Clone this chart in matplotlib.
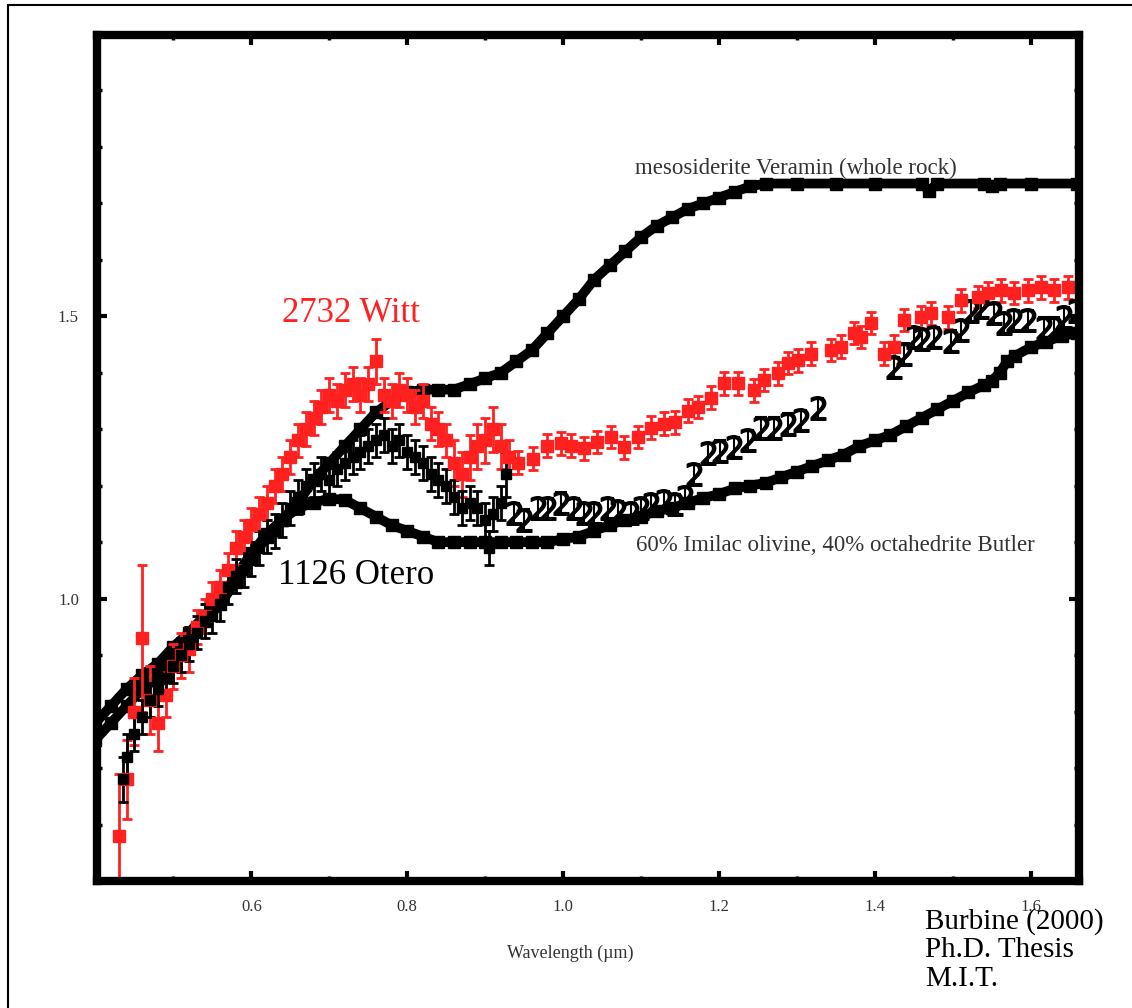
import matplotlib
matplotlib.use('Agg')
import matplotlib.pyplot as plt
from matplotlib.ticker import FixedLocator
from matplotlib.patches import Rectangle

plt.rcParams['font.family'] = ['Liberation Serif', 'DejaVu Serif']

# --- mesosiderite Veramin (whole rock) ---
meso_x = [0.40, 0.42, 0.44, 0.46, 0.48, 0.50, 0.52, 0.54, 0.56, 0.58, 0.60, 0.62,
          0.64, 0.66, 0.68, 0.70, 0.72, 0.74, 0.76, 0.78, 0.80, 0.82, 0.84, 0.86,
          0.88, 0.90, 0.92, 0.94, 0.96, 0.98, 1.00, 1.02, 1.04, 1.06, 1.08, 1.10,
          1.12, 1.14, 1.16, 1.18, 1.20, 1.22, 1.24, 1.26, 1.30, 1.35, 1.40, 1.46,
          1.47, 1.48, 1.54, 1.55, 1.56, 1.60, 1.66]
meso_y = [0.75, 0.78, 0.81, 0.84, 0.86, 0.89, 0.92, 0.96, 0.99, 1.03, 1.07, 1.11,
          1.14, 1.17, 1.21, 1.24, 1.27, 1.30, 1.33, 1.35, 1.365, 1.37, 1.37, 1.37,
          1.38, 1.39, 1.40, 1.42, 1.44, 1.47, 1.50, 1.53, 1.565, 1.59, 1.615, 1.64,
          1.66, 1.675, 1.69, 1.70, 1.71, 1.72, 1.73, 1.735, 1.735, 1.735, 1.735, 1.735,
          1.722, 1.735, 1.735, 1.73, 1.735, 1.735, 1.735]

# --- 60% Imilac olivine, 40% octahedrite Butler ---
imi_x = [0.40, 0.42, 0.44, 0.46, 0.48, 0.50, 0.52, 0.54, 0.56, 0.58, 0.60, 0.62,
         0.64, 0.66, 0.68, 0.70, 0.72, 0.74, 0.76, 0.78, 0.80, 0.82, 0.84, 0.86,
         0.88, 0.90, 0.92, 0.94, 0.96, 0.98, 1.00, 1.02, 1.04, 1.06, 1.08, 1.10,
         1.12, 1.14, 1.16, 1.18, 1.20, 1.22, 1.24, 1.26, 1.28, 1.30, 1.32, 1.34,
         1.36, 1.38, 1.40, 1.42, 1.44, 1.46, 1.48, 1.50, 1.52, 1.54, 1.55, 1.56,
         1.57, 1.58, 1.60, 1.62, 1.64, 1.66]
imi_y = [0.78, 0.81, 0.84, 0.865, 0.885, 0.915, 0.94, 0.97, 1.00, 1.04, 1.08, 1.115,
         1.14, 1.16, 1.17, 1.177, 1.175, 1.16, 1.145, 1.13, 1.12, 1.11, 1.10, 1.10,
         1.10, 1.10, 1.10, 1.10, 1.10, 1.10, 1.105, 1.11, 1.12, 1.13, 1.14, 1.145,
         1.155, 1.16, 1.17, 1.178, 1.185, 1.195, 1.20, 1.205, 1.215, 1.225, 1.235, 1.245,
         1.255, 1.27, 1.28, 1.29, 1.305, 1.32, 1.335, 1.35, 1.365, 1.378, 1.385, 1.40,
         1.42, 1.43, 1.445, 1.455, 1.465, 1.47]

# --- 2732 Witt (red) ---
witt_x = [0.43, 0.44, 0.45, 0.46, 0.47, 0.48, 0.49, 0.50, 0.51, 0.52, 0.53, 0.54,
          0.55, 0.56, 0.57, 0.58, 0.59, 0.60, 0.61, 0.62, 0.63, 0.64, 0.65, 0.66,
          0.67, 0.68, 0.69, 0.70, 0.71, 0.72, 0.73, 0.74, 0.75, 0.76, 0.77, 0.78,
          0.79, 0.80, 0.81, 0.82, 0.83, 0.84, 0.85, 0.86, 0.87, 0.88, 0.89, 0.90,
          0.91, 0.92, 0.93,
          0.942, 0.962, 0.980, 0.997, 1.010, 1.027, 1.044, 1.061, 1.078, 1.096, 1.113,
          1.130, 1.143, 1.160, 1.173, 1.190, 1.207, 1.224, 1.245, 1.258, 1.276, 1.288,
          1.301, 1.318, 1.344, 1.357, 1.373, 1.382, 1.395,
          1.412, 1.425, 1.438, 1.459, 1.472, 1.494, 1.511, 1.533, 1.545, 1.562, 1.579,
          1.597, 1.613, 1.630, 1.648]
witt_y = [0.58, 0.68, 0.80, 0.93, 0.82, 0.78, 0.83, 0.88, 0.90, 0.91, 0.95, 0.97,
          1.00, 1.02, 1.05, 1.09, 1.11, 1.13, 1.15, 1.17, 1.20, 1.22, 1.25, 1.28,
          1.30, 1.32, 1.34, 1.36, 1.35, 1.37, 1.38, 1.36, 1.38, 1.42, 1.36, 1.35,
          1.37, 1.36, 1.34, 1.35, 1.31, 1.30, 1.28, 1.24, 1.22, 1.25, 1.27, 1.28,
          1.30, 1.27, 1.25,
          1.241, 1.248, 1.271, 1.275, 1.271, 1.266, 1.277, 1.286, 1.268, 1.286, 1.303,
          1.310, 1.312, 1.333, 1.339, 1.356, 1.381, 1.381, 1.369, 1.387, 1.399, 1.417,
          1.422, 1.434, 1.440, 1.446, 1.470, 1.463, 1.488,
          1.434, 1.446, 1.493, 1.498, 1.505, 1.498, 1.528, 1.534, 1.541, 1.546, 1.541,
          1.546, 1.551, 1.546, 1.551]
witt_err = [0.11, 0.07, 0.06, 0.13, 0.06, 0.05, 0.04, 0.04, 0.04, 0.04, 0.03, 0.03,
            0.03, 0.03, 0.03, 0.03, 0.03, 0.03, 0.03, 0.03, 0.03, 0.03, 0.03, 0.03,
            0.03, 0.03, 0.03, 0.03, 0.03, 0.03, 0.03, 0.03, 0.03, 0.04, 0.03, 0.03,
            0.03, 0.03, 0.03, 0.03, 0.03, 0.03, 0.03, 0.04, 0.04, 0.04, 0.04, 0.04,
            0.04, 0.04, 0.03] + [0.02] * 44

# --- 1126 Otero (black) ---
otero_x = [0.435, 0.44, 0.45, 0.46, 0.47, 0.48, 0.49, 0.50, 0.51, 0.52, 0.53, 0.54,
           0.55, 0.56, 0.57, 0.58, 0.59, 0.60, 0.61, 0.62, 0.63, 0.64, 0.65, 0.66,
           0.67, 0.68, 0.69, 0.70, 0.71, 0.72, 0.73, 0.74, 0.75, 0.76, 0.77, 0.78,
           0.79, 0.80, 0.81, 0.82, 0.83, 0.84, 0.85, 0.86, 0.87, 0.88, 0.89, 0.90,
           0.905, 0.91, 0.92, 0.927]
otero_y = [0.68, 0.72, 0.76, 0.79, 0.82, 0.84, 0.86, 0.88, 0.90, 0.92, 0.94, 0.96,
           0.97, 0.99, 1.02, 1.04, 1.05, 1.07, 1.09, 1.11, 1.12, 1.14, 1.16, 1.18,
           1.20, 1.21, 1.22, 1.21, 1.23, 1.24, 1.25, 1.26, 1.27, 1.28, 1.29, 1.27,
           1.28, 1.26, 1.25, 1.24, 1.22, 1.21, 1.20, 1.18, 1.16, 1.17, 1.16, 1.14,
           1.09, 1.15, 1.17, 1.22]
otero_err = [0.04, 0.04] + [0.03] * 49 + [0.04]

otero2_x = [0.937, 0.950, 0.968, 0.981, 0.997, 1.014, 1.027, 1.040, 1.058, 1.071,
            1.087, 1.100, 1.113, 1.130, 1.143, 1.156, 1.168, 1.186, 1.202, 1.219,
            1.237, 1.254, 1.271, 1.288, 1.305, 1.327,
            1.425, 1.438, 1.450, 1.460, 1.476, 1.498, 1.510, 1.524, 1.536, 1.553,
            1.566, 1.579, 1.597, 1.617, 1.630, 1.643, 1.658]
otero2_y = [1.151, 1.140, 1.160, 1.160, 1.170, 1.160, 1.151, 1.151, 1.160, 1.155,
            1.151, 1.160, 1.168, 1.173, 1.168, 1.180, 1.220, 1.257, 1.262, 1.268,
            1.280, 1.303, 1.303, 1.310, 1.316, 1.338,
            1.410, 1.434, 1.463, 1.460, 1.463, 1.457, 1.475, 1.510, 1.516, 1.505,
            1.488, 1.493, 1.493, 1.480, 1.480, 1.498, 1.510]

fig = plt.figure(figsize=(11.32, 10.08), dpi=100)
ax = fig.add_axes([97 / 1132, 1 - 881 / 1008, 982 / 1132, 846 / 1008])

ax.plot(meso_x, meso_y, color='black', lw=7, marker='s', ms=8)
ax.plot(imi_x, imi_y, color='black', lw=7, marker='s', ms=8)

ax.errorbar(witt_x, witt_y, yerr=witt_err, fmt='s', color='#ff2020', ms=8,
            capsize=3.5, elinewidth=2, capthick=2)
ax.errorbar(otero_x, otero_y, yerr=otero_err, fmt='s', color='black', ms=7.5,
            capsize=3.5, elinewidth=2, capthick=2)
ax.errorbar(otero2_x, otero2_y, yerr=0.018, fmt='none', ecolor='black',
            capsize=4, elinewidth=1.5, capthick=1.5)
ax.plot(otero2_x, otero2_y, linestyle='none', marker='$2$', color='black', ms=17)

ax.set_xlim(0.402, 1.662)
ax.set_ylim(0.5, 1.998)
ax.xaxis.set_major_locator(FixedLocator([0.6, 0.8, 1.0, 1.2, 1.4, 1.6]))
ax.xaxis.set_minor_locator(FixedLocator([0.5, 0.7, 0.9, 1.1, 1.3, 1.5]))
ax.yaxis.set_major_locator(FixedLocator([1.0, 1.5]))
ax.yaxis.set_minor_locator(FixedLocator([0.6, 0.7, 0.8, 0.9, 1.1, 1.2, 1.3, 1.4,
                                         1.6, 1.7, 1.8, 1.9]))
ax.xaxis.set_major_formatter(plt.FuncFormatter(lambda v, p: '%.1f' % v))
ax.yaxis.set_major_formatter(plt.FuncFormatter(lambda v, p: '%.1f' % v))

for s in ax.spines.values():
    s.set_linewidth(6)
ax.tick_params(which='major', direction='in', length=7, width=3, top=True,
               right=True, labelsize=12, pad=13, labelcolor='#333333')
ax.tick_params(which='minor', direction='in', length=3.5, width=2.5, top=True,
               right=True)

ax.text(1.299, 1.762, 'mesosiderite Veramin (whole rock)', color='#333333',
        fontsize=16.5, ha='center', va='center')
ax.text(0.728, 1.505, '2732 Witt', color='#ff2020', fontsize=25,
        ha='center', va='center')
ax.text(0.734, 1.041, '1126 Otero', color='black', fontsize=25,
        ha='center', va='center')
ax.text(1.350, 1.094, '60% Imilac olivine, 40% octahedrite Butler',
        color='#333333', fontsize=16.5, ha='center', va='center')

fig.text(570 / 1132, 1 - 953 / 1008, 'Wavelength (µm)', fontsize=13,
         ha='center', va='center', color='#333333')
fig.text(925 / 1132, 1 - 908 / 1008, 'Burbine (2000)\nPh.D. Thesis\nM.I.T.',
         fontsize=21, ha='left', va='top', linespacing=1.12)

fig.patches.append(Rectangle((8 / 1132, -0.05), 1.2, 1.05 - 5 / 1008,
                             transform=fig.transFigure, fill=False,
                             lw=1.5, edgecolor='black'))

fig.savefig('out.png', dpi=100)
